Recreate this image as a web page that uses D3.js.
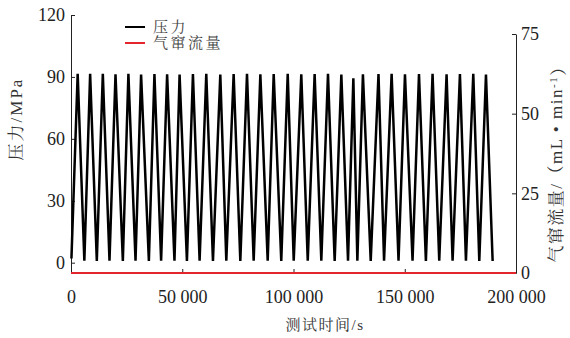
<!DOCTYPE html>
<html><head><meta charset="utf-8">
<script src="https://cdn.jsdelivr.net/npm/d3@7"></script>
<style>
html,body{margin:0;padding:0;background:#fff;}
svg{display:block;}
</style>
</head><body>
<svg id="c" width="570" height="338"></svg>
<script>
// ---- data ----
const pressureTime = [200,3000,6000,8600,11600,14300,17300,20000,23300,25800,29000,31500,35000,37500,40500,43200,46500,48800,52100,54800,57800,60800,63800,67100,69800,73100,76100,79100,82100,85100,88400,91100,94500,97400,100100,103500,106400,109500,112500,115500,118500,121500,124500,126900,128700,131200,134700,138200,140700,144100,147200,150100,153500,156400,159500,162500,165500,168800,171500,174800,177500,180800,183500,186500,189500];
const pressureValue = [2,91.5,1,91.5,0.8,91.5,1,91.3,0.8,91.5,1,91.2,0.8,91.4,1,91.3,0.9,91.2,0.8,91.4,1,91.5,0.8,91.2,1,91.4,0.8,91.5,1,91.3,0.9,91.4,0.8,91.5,1,91.3,0.9,91.4,1,91.5,0.8,91.2,1,89.3,1,91.3,0.8,91.4,1,91.5,0.9,91.3,1,91.4,0.8,91.5,1,91.3,0.9,91.4,1,91.5,0.8,91.2,0.8];
const flowTime = [0,200000];
const flowValue = [0,0];
const xTicks = [0,50000,100000,150000,200000];
const yLeftTicks = [0,30,60,90,120];
const yRightTicks = [0,25,50,75];
const legendLabels = ["压力","气窜流量"];
const xTitle = "测试时间/s";
const yLeftTitle = "压力/MPa";

// ---- chart ----
const FONT = '"Liberation Serif", "Times New Roman", "Noto Serif CJK SC"';
const svg = d3.select("#c");
const x = d3.scaleLinear().domain([0,200000]).range([71,516]);
const yL = d3.scaleLinear().domain([-5,120]).range([273,15]);
const yR = d3.scaleLinear().domain([0,75]).range([273,34]);
const fmt = d => d3.format(",")(d).replace(/,/g," ");

function styleAxis(g){
  g.attr("font-family",null).attr("font-size",null);
  g.selectAll("path").attr("stroke","#222").attr("stroke-width",1);
  g.selectAll("line").attr("stroke","#222");
  g.selectAll("text").style("font-family",FONT).style("font-size","18px").attr("fill","#222");
}

const gx = svg.append("g").attr("transform","translate(0,273)")
  .call(d3.axisBottom(x).tickValues(xTicks).tickFormat(fmt).tickSize(-4).tickSizeOuter(0).tickPadding(17));
styleAxis(gx);
const gl = svg.append("g").attr("transform","translate(71,0)")
  .call(d3.axisLeft(yL).tickValues(yLeftTicks).tickSize(-4).tickSizeOuter(0).tickPadding(6));
styleAxis(gl);
const gr = svg.append("g").attr("transform","translate(516,0)")
  .call(d3.axisRight(yR).tickValues(yRightTicks).tickSize(-4).tickSizeOuter(0).tickPadding(5));
styleAxis(gr);

const pData = pressureTime.map((t,i)=>[t,pressureValue[i]]);
const fData = flowTime.map((t,i)=>[t,flowValue[i]]);
svg.append("path").datum(pData)
  .attr("d", d3.line().x(d=>x(d[0])).y(d=>yL(d[1])))
  .attr("fill","none").attr("stroke","#000").attr("stroke-width",2.5).attr("stroke-linejoin","miter");
svg.append("path").datum(fData)
  .attr("d", d3.line().x(d=>x(d[0])).y(d=>yR(d[1])))
  .attr("fill","none").attr("stroke","#e3262b").attr("stroke-width",2.2);

// legend
const legColors = ["#000","#e3262b"];
legendLabels.forEach((lab,i)=>{
  const yy = 27 + i*16;
  svg.append("line").attr("x1",125).attr("x2",145).attr("y1",yy).attr("y2",yy)
    .attr("stroke",legColors[i]).attr("stroke-width",2);
  svg.append("text").attr("x",153).attr("y",yy).attr("dy","0.36em")
    .style("font-family",FONT).style("font-size","15px").attr("letter-spacing",2.5)
    .attr("fill","#444").text(lab);
});

// axis titles
svg.append("text").attr("x",325).attr("y",325).attr("dy","0.35em").attr("text-anchor","middle")
  .style("font-family",FONT).style("font-size","15px").attr("letter-spacing",1.5).attr("fill","#333").text(xTitle);
svg.append("text").attr("transform","translate(16,119) rotate(-90)").attr("dy","0.35em").attr("text-anchor","middle")
  .style("font-family",FONT).style("font-size","17px").attr("letter-spacing",2).attr("fill","#333").text(yLeftTitle);
const rt = svg.append("text").attr("transform","translate(556,160) rotate(-90)").attr("dy","0.35em").attr("text-anchor","middle")
  .style("font-family",FONT).style("font-size","17px").attr("letter-spacing",1.5).attr("fill","#333");
rt.append("tspan").text("气窜流量/（mL • min");
rt.append("tspan").attr("dy","-0.45em").style("font-size","11px").text("-1");
rt.append("tspan").attr("dy","0.45em").text("）");
</script>
</body></html>
